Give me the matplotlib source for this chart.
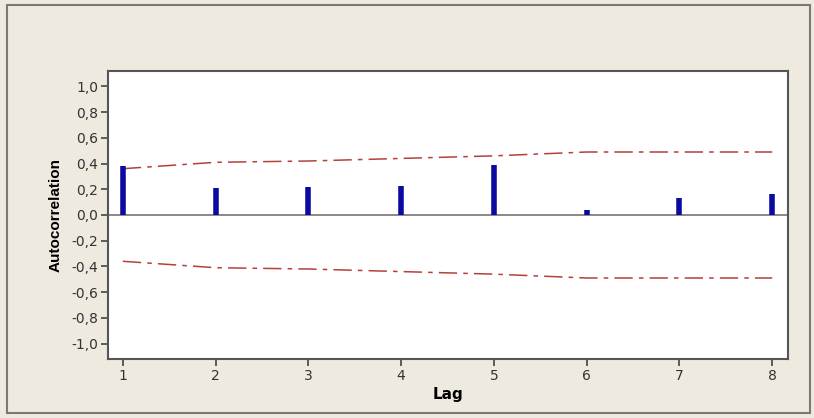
import matplotlib
matplotlib.use("Agg")
import matplotlib.pyplot as plt
from matplotlib.patches import Rectangle
from matplotlib.ticker import FuncFormatter

lags = [1, 2, 3, 4, 5, 6, 7, 8]
acf = [0.38, 0.21, 0.22, 0.225, 0.39, 0.04, 0.13, 0.16]
upper_limit = [0.36, 0.41, 0.42, 0.44, 0.46, 0.49, 0.49, 0.49]
lower_limit = [-0.36, -0.41, -0.42, -0.44, -0.46, -0.49, -0.49, -0.49]
y_ticks = [-1.0, -0.8, -0.6, -0.4, -0.2, 0.0, 0.2, 0.4, 0.6, 0.8, 1.0]

bg = "#eeeae0"
W, H = 814, 418

fig = plt.figure(figsize=(W / 100, H / 100), dpi=100, facecolor=bg)
# outer frame
fig.patches.append(Rectangle((7 / W, 5 / H), 803 / W, 408 / H, transform=fig.transFigure,
                             fill=False, edgecolor="#7a7a72", linewidth=1.5))

ax = fig.add_axes([108 / W, (H - 359) / H, 680 / W, 288 / H])
ax.set_facecolor("white")

ax.axhline(0, color="#808080", linewidth=1.3, zorder=1)
ax.vlines(lags, 0, acf, color="#0a0aa0", linewidth=4, zorder=3)
for lim in (upper_limit, lower_limit):
    ax.plot(lags, lim, color="#b5403a", linewidth=1.1,
            dashes=(12, 4, 3, 4), zorder=2)

ax.set_xlim(0.84, 8.17)
ax.set_ylim(-1.12, 1.12)
ax.set_xticks(lags)
ax.set_yticks(y_ticks)
ax.yaxis.set_major_formatter(FuncFormatter(lambda v, p: f"{v:.1f}".replace(".", ",").replace("-0,0", "0,0")))

for s in ax.spines.values():
    s.set_color("#555555")
    s.set_linewidth(1.5)
ax.tick_params(direction="out", length=5, width=1.2, color="#444444",
               labelsize=10, labelcolor="#333333", pad=2)

ax.set_xlabel("Lag", fontsize=11, fontweight="bold", labelpad=3)
ax.set_ylabel("Autocorrelation", fontsize=11, fontweight="bold",
              family=["Liberation Sans Narrow", "Liberation Sans", "DejaVu Sans"], labelpad=6)

fig.savefig("out.png", dpi=100, facecolor=bg)
